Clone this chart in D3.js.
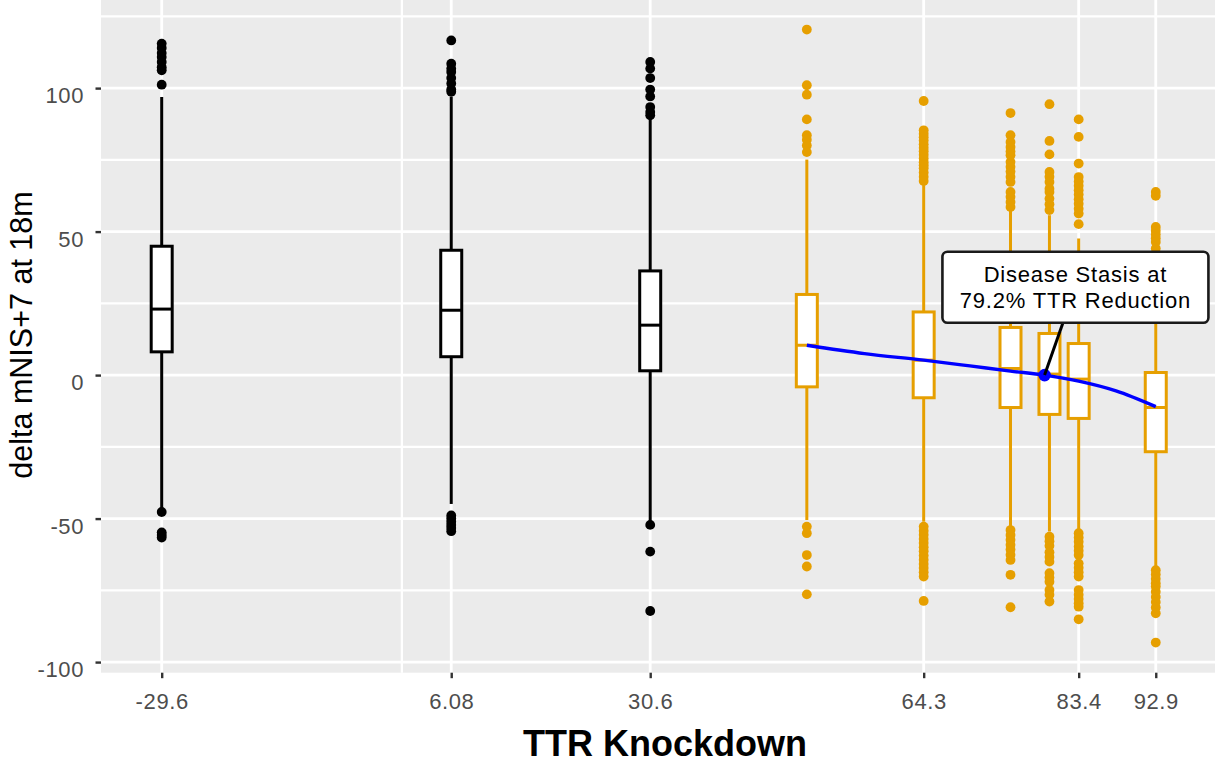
<!DOCTYPE html>
<html>
<head>
<meta charset="utf-8">
<script src="https://cdn.jsdelivr.net/npm/d3@7"></script>
<style>
  body { margin: 0; background: #fff; }
  svg { display: block; font-family: "Liberation Sans", Arial, sans-serif; }
</style>
</head>
<body>
<svg id="canvas" width="1217" height="764"></svg>
<script>
// ---- data ----
// TTR knockdown (%) of each box
const knockdown = [-29.6, 6.08, 30.6, 49.9, 64.3, 75.0, 79.8, 83.4, 92.9];
const groupOf   = ["obs", "obs", "obs", "sim", "sim", "sim", "sim", "sim", "sim"];
const q1        = [8.1, 6.4, 1.5, -4.1, -7.9, -11.3, -13.7, -15.1, -26.7];
const medians   = [23.0, 22.6, 17.4, 10.4, 5.2, 2.3, 0.35, -1.4, -11.3];
const q3        = [44.9, 43.5, 36.3, 28.1, 22.0, 16.6, 14.5, 11.0, 0.9];
const whiskLow  = [-46.3, -44.9, -51.0, -50.5, -51.1, -52.8, -54.5, -54.0, -66.7];
const whiskHigh = [96.9, 97.0, 89.4, 75.1, 66.2, 57.5, 55.7, 47.6, 41.0];
const outliers = [
  [101.2, 106.2, 107.3, 109.1, 110.8, 112.2, 114, 115.5, -47.7, -54.8, -55.7, -56.6],
  [116.6, 108.5, 106.8, 105.6, 103.5, 101.6, 99.5, 98.7, -48.9, -50, -51.1, -52.2, -53.3, -54.4],
  [109.1, 106.8, 103.5, 99.5, 97.1, 93.4, 91.7, 90.5, -52.2, -61.5, -82.2],
  [120.4, 101, 97.7, 89.1, 83.6, 82, 80, 77.7, -52.8, -55.1, -62.7, -66.7, -76.4],
  [95.5, 85.3, 84.1, 82.9, 81.7, 80.4, 79.2, 78, 76.8, 75.5, 74.2, 73.1, 72.1, 70.6, 69.1, 67.6,
   -52.8, -54.2, -55.6, -57.1, -58.5, -60, -61.4, -62.9, -64.3, -65.8, -67.2, -68.7, -70.2, -78.7],
  [91.3, 83.6, 81.2, 79.5, 77.9, 76.6, 74.3, 72.6, 70.9, 69.1, 67.3, 63.8, 62.1, 60.3, 58.6,
   -54, -55.7, -57.4, -59.1, -60.8, -62.6, -64.4, -69.6, -80.9],
  [94.4, 81.6, 76.9, 70.8, 69.1, 67.3, 64.9, 63.8, 61.5, 59.5, 57.5,
   -56.3, -57.9, -59.5, -61.7, -63.4, -65, -69, -70.5, -72, -74.9, -76.5, -78.9],
  [89.1, 83, 73.7, 69, 67.5, 66, 64.4, 62.9, 61.3, 59.7, 58, 56.3, 52.6,
   -55.1, -56.6, -58.1, -59.7, -61.2, -62.7, -65.6, -67.1, -68.7, -70.2, -74.9, -76.5, -78, -79.5, -80.7, -85.1],
  [63.8, 62.5, 51.6, 50.3, 49, 47.7, 46.4, 44.1,
   -68, -69.5, -71, -72.5, -73.7, -75.5, -77.3, -79.1, -81, -83, -93.2]
];

// fitted curve (blue)
const fitX = [49.9, 57, 64.3, 70, 75, 79.2, 83.4, 88, 92.9];
const fitY = [10.4, 7.5, 5.2, 3.2, 1.4, 0, -2.1, -5.5, -11.0];

// stasis point + its label
const stasisX = 79.2;
const stasisY = 0;
const labelLines = ["Disease Stasis at", "79.2% TTR Reduction"];
const labelX = 83.0;
const labelY = 30.6;

// axes
const xBreaks = [-29.6, 6.08, 30.6, 64.3, 83.4, 92.9];
const xTickLabels = ["-29.6", "6.08", "30.6", "64.3", "83.4", "92.9"];
const xMinor = [0];
const yBreaks = [-100, -50, 0, 50, 100];
const yTickLabels = ["-100", "-50", "0", "50", "100"];
const yMinor = [-75, -25, 25, 75, 125];
const xDomain = [-37.08, 100.2];
const yDomain = [-103.7, 130.7];

// ---- drawing ----
let svg = d3.select("#canvas");
let pLeft = 101, pRight = 1215, pTop = 0, pBottom = 672.7;

var x = d3.scaleLinear().domain(xDomain).range([pLeft, pRight]);
var y = d3.scaleLinear().domain(yDomain).range([pBottom, pTop]);

var color = d3.scaleOrdinal()
  .domain(["obs", "sim"])
  .range(["#000000", "#E69F00"]);

//panel background
svg.append("rect")
  .attr("x", pLeft).attr("y", pTop)
  .attr("width", pRight - pLeft).attr("height", pBottom - pTop)
  .attr("fill", "#EBEBEB");

//grid lines, minor first
let grid = svg.append("g");
grid.selectAll(".hminor").data(yMinor).join("line").attr("class", "hminor")
  .attr("x1", pLeft).attr("x2", pRight)
  .attr("y1", d => y(d)).attr("y2", d => y(d))
  .attr("stroke", "white").attr("stroke-width", 2.3);
grid.selectAll(".vminor").data(xMinor).join("line").attr("class", "vminor")
  .attr("y1", pTop).attr("y2", pBottom)
  .attr("x1", d => x(d)).attr("x2", d => x(d))
  .attr("stroke", "white").attr("stroke-width", 2.3);
grid.selectAll(".hmajor").data(yBreaks).join("line").attr("class", "hmajor")
  .attr("x1", pLeft).attr("x2", pRight)
  .attr("y1", d => y(d)).attr("y2", d => y(d))
  .attr("stroke", "white").attr("stroke-width", 2.8);
grid.selectAll(".vmajor").data(xBreaks).join("line").attr("class", "vmajor")
  .attr("y1", pTop).attr("y2", pBottom)
  .attr("x1", d => x(d)).attr("x2", d => x(d))
  .attr("stroke", "white").attr("stroke-width", 2.8);

//boxplots
let half = 10.5;
let lw = 3;
let boxes = svg.selectAll(".box")
  .data(knockdown.map((k, i) => ({
    k: k, g: groupOf[i], q1: q1[i], med: medians[i], q3: q3[i],
    lo: whiskLow[i], hi: whiskHigh[i], out: outliers[i]
  })))
  .join("g")
  .attr("class", "box");

boxes.each(function(d) {
  let g = d3.select(this);
  let c = color(d.g);
  let cx = x(d.k);
  //outliers
  g.selectAll("circle").data(d.out).join("circle")
    .attr("cx", cx).attr("cy", v => y(v))
    .attr("r", 4.9).attr("fill", c);
  //whiskers
  g.append("line")
    .attr("x1", cx).attr("x2", cx)
    .attr("y1", y(d.q3)).attr("y2", y(d.hi))
    .attr("stroke", c).attr("stroke-width", lw);
  g.append("line")
    .attr("x1", cx).attr("x2", cx)
    .attr("y1", y(d.q1)).attr("y2", y(d.lo))
    .attr("stroke", c).attr("stroke-width", lw);
  //box
  g.append("rect")
    .attr("x", cx - half).attr("width", half * 2)
    .attr("y", y(d.q3)).attr("height", y(d.q1) - y(d.q3))
    .attr("fill", "white").attr("stroke", c).attr("stroke-width", lw);
  //median
  g.append("line")
    .attr("x1", cx - half).attr("x2", cx + half)
    .attr("y1", y(d.med)).attr("y2", y(d.med))
    .attr("stroke", c).attr("stroke-width", lw);
});

//fitted curve
var line = d3.line()
  .x(d => x(d[0]))
  .y(d => y(d[1]))
  .curve(d3.curveMonotoneX);
svg.append("path")
  .attr("d", line(fitX.map((v, i) => [v, fitY[i]])))
  .attr("fill", "none")
  .attr("stroke", "#0000FF")
  .attr("stroke-width", 3.4);

svg.append("circle")
  .attr("cx", x(stasisX)).attr("cy", y(stasisY))
  .attr("r", 6.3).attr("fill", "#0000FF");

//label with connector
let lab = svg.append("g");
let lcx = x(labelX), lcy = y(labelY);
let seg = lab.append("line").attr("stroke", "black").attr("stroke-width", 3);
let boxR = lab.append("rect")
  .attr("fill", "white").attr("stroke", "#1a1a1a").attr("stroke-width", 2.6)
  .attr("rx", 5).attr("ry", 5);
let txt = lab.append("text")
  .attr("text-anchor", "middle")
  .attr("font-size", 22)
  .attr("letter-spacing", 0.8)
  .attr("fill", "black");
txt.selectAll("tspan").data(labelLines).join("tspan")
  .attr("x", lcx)
  .attr("y", (d, i) => lcy - 5.5 + i * 26.6)
  .text(d => d);
let bw = 266, bh = 71;
boxR.attr("x", lcx - bw / 2).attr("y", lcy - bh / 2).attr("width", bw).attr("height", bh);
//connector from point toward label centre, stopped at box edge
let px = x(stasisX), py = y(stasisY);
let t = (py - (lcy + bh / 2)) / (py - lcy);
seg.attr("x1", px).attr("y1", py)
  .attr("x2", px + (lcx - px) * t).attr("y2", lcy + bh / 2);

//y axis
svg.append("g")
  .attr("transform", "translate(" + pLeft + ",0)")
  .call(d3.axisLeft(y).tickValues(yBreaks)
    .tickFormat((d, i) => yTickLabels[i])
    .tickSize(5.5).tickPadding(11.5))
  .call(g => g.select(".domain").remove())
  .call(g => g.selectAll("line").attr("stroke", "#333333").attr("stroke-width", 2.4))
  .call(g => g.selectAll("text")
    .attr("dy", "0.66em")
    .attr("font-size", 22)
    .attr("letter-spacing", 0.6)
    .attr("font-family", "Liberation Sans, Arial, sans-serif")
    .attr("fill", "#4D4D4D"));

//x axis
svg.append("g")
  .attr("transform", "translate(0," + pBottom + ")")
  .call(d3.axisBottom(x).tickValues(xBreaks)
    .tickFormat((d, i) => xTickLabels[i])
    .tickSize(5.5).tickPadding(14.8))
  .call(g => g.select(".domain").remove())
  .call(g => g.selectAll("line").attr("stroke", "#333333").attr("stroke-width", 2.4))
  .call(g => g.selectAll("text")
    .attr("font-size", 22)
    .attr("letter-spacing", 0.6)
    .attr("font-family", "Liberation Sans, Arial, sans-serif")
    .attr("fill", "#4D4D4D"));

//axis titles
svg.append("text")
  .attr("x", 665).attr("y", 756)
  .attr("text-anchor", "middle")
  .attr("font-size", 36)
  .attr("font-weight", "bold")
  .text("TTR Knockdown");

svg.append("text")
  .attr("transform", "translate(31.5,335) rotate(-90)")
  .attr("text-anchor", "middle")
  .attr("font-size", 30.5)
  .text("delta mNIS+7 at 18m");
</script>
</body>
</html>
